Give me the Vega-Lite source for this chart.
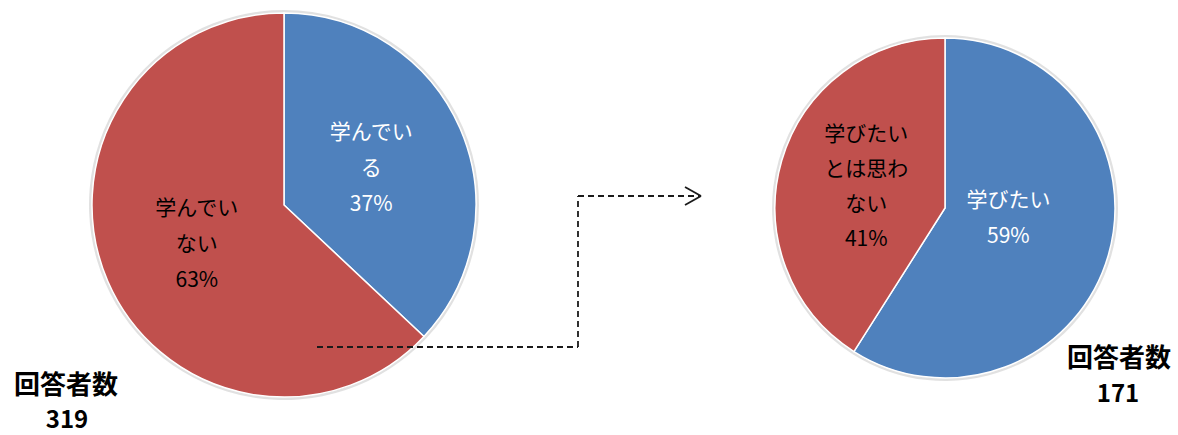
{
  "$schema": "https://vega.github.io/schema/vega-lite/v6.json",
  "width": 1178,
  "height": 435,
  "padding": 0,
  "autosize": {"type": "none"},
  "background": "white",
  "config": {"view": {"stroke": null}, "text": {"font": "Noto Sans CJK JP"}},
  "datasets": {
    "slices": [
      {"survey": "全体", "answer": "学んでいる", "pct": 37, "order": 1, "label": "学んでい|る|37%"},
      {"survey": "全体", "answer": "学んでいない", "pct": 63, "order": 2, "label": "学んでい|ない|63%"},
      {"survey": "学んでいない人", "answer": "学びたい", "pct": 59, "order": 1, "label": "学びたい|59%"},
      {"survey": "学んでいない人", "answer": "学びたいとは思わない", "pct": 41, "order": 2, "label": "学びたい|とは思わ|ない|41%"}
    ],
    "totals": [
      {"survey": "全体", "n": 319},
      {"survey": "学んでいない人", "n": 171}
    ]
  },
  "layer": [
    {
      "data": {"name": "slices"},
      "transform": [
        {"stack": "pct", "groupby": ["survey"], "sort": [{"field": "order", "order": "ascending"}], "offset": "normalize", "as": ["start", "end"]},
        {"calculate": "(datum.start + datum.end) / 2", "as": "mid"}
      ],
      "encoding": {
        "x": {"field": "survey", "type": "nominal", "scale": {"type": "point", "domain": ["全体", "学んでいない人"], "range": [284, 945], "padding": 0}, "axis": null},
        "y": {"field": "survey", "type": "nominal", "scale": {"type": "point", "domain": ["全体", "学んでいない人"], "range": [205, 208], "padding": 0}, "axis": null}
      },
      "layer": [
        {
          "transform": [{"filter": "datum.survey === '全体'"}],
          "mark": {"type": "arc", "radius": 195, "color": "#d4d4d4", "opacity": 0.7},
          "encoding": {
            "theta": {"field": "start", "type": "quantitative", "scale": {"domain": [0, 1], "range": [0, 6.283185]}},
            "theta2": {"field": "end"}
          }
        },
        {
          "transform": [{"filter": "datum.survey === '学んでいない人'"}],
          "mark": {"type": "arc", "radius": 173, "color": "#d4d4d4", "opacity": 0.7},
          "encoding": {
            "theta": {"field": "start", "type": "quantitative", "scale": {"domain": [0, 1], "range": [0, 6.283185]}},
            "theta2": {"field": "end"}
          }
        },
        {
          "transform": [{"filter": "datum.survey === '全体'"}],
          "mark": {"type": "arc", "radius": 192, "stroke": "white", "strokeWidth": 1.5},
          "encoding": {
            "theta": {"field": "start", "type": "quantitative", "scale": {"domain": [0, 1], "range": [0, 6.283185]}},
            "theta2": {"field": "end"},
            "color": {"field": "answer", "type": "nominal", "scale": {"domain": ["学んでいる", "学んでいない", "学びたい", "学びたいとは思わない"], "range": ["#4F81BD", "#C0504D", "#4F81BD", "#C0504D"]}, "legend": null}
          }
        },
        {
          "transform": [{"filter": "datum.survey === '学んでいない人'"}],
          "mark": {"type": "arc", "radius": 170, "stroke": "white", "strokeWidth": 1.5},
          "encoding": {
            "theta": {"field": "start", "type": "quantitative", "scale": {"domain": [0, 1], "range": [0, 6.283185]}},
            "theta2": {"field": "end"},
            "color": {"field": "answer", "type": "nominal", "legend": null}
          }
        },
        {
          "transform": [{"filter": "datum.survey === '全体'"}],
          "mark": {"type": "text", "radius": 95, "fontSize": 21, "lineBreak": "|", "lineHeight": 36, "align": "center", "baseline": "middle", "dy": -34},
          "encoding": {
            "theta": {"field": "mid", "type": "quantitative"},
            "text": {"field": "label"},
            "color": {"condition": {"test": "datum.order === 1", "value": "white"}, "value": "black"}
          }
        },
        {
          "transform": [{"filter": "datum.survey === '学んでいない人' && datum.order === 1"}],
          "mark": {"type": "text", "radius": 66, "fontSize": 21, "lineBreak": "|", "lineHeight": 36, "align": "center", "baseline": "middle", "color": "white", "dy": -25},
          "encoding": {
            "theta": {"field": "mid", "type": "quantitative"},
            "text": {"field": "label"}
          }
        },
        {
          "transform": [{"filter": "datum.survey === '学んでいない人' && datum.order === 2"}],
          "mark": {"type": "text", "radius": 82, "fontSize": 21, "lineBreak": "|", "lineHeight": 35, "align": "center", "baseline": "middle", "color": "black", "dy": -50},
          "encoding": {
            "theta": {"field": "mid", "type": "quantitative"},
            "text": {"field": "label"}
          }
        },
        {
          "data": {"name": "totals"},
          "transform": [{"filter": "datum.survey === '全体'"}],
          "mark": {"type": "text", "fontSize": 26, "fontWeight": "bold", "align": "center", "baseline": "middle", "dx": -218, "dy": 181, "color": "black"},
          "encoding": {"text": {"value": "回答者数"}}
        },
        {
          "data": {"name": "totals"},
          "transform": [{"filter": "datum.survey === '全体'"}],
          "mark": {"type": "text", "fontSize": 24, "fontWeight": "bold", "align": "center", "baseline": "middle", "dx": -217, "dy": 216, "color": "black"},
          "encoding": {"text": {"field": "n"}}
        },
        {
          "data": {"name": "totals"},
          "transform": [{"filter": "datum.survey === '学んでいない人'"}],
          "mark": {"type": "text", "fontSize": 26, "fontWeight": "bold", "align": "center", "baseline": "middle", "dx": 174, "dy": 151, "color": "black"},
          "encoding": {"text": {"value": "回答者数"}}
        },
        {
          "data": {"name": "totals"},
          "transform": [{"filter": "datum.survey === '学んでいない人'"}],
          "mark": {"type": "text", "fontSize": 24, "fontWeight": "bold", "align": "center", "baseline": "middle", "dx": 173, "dy": 187, "color": "black"},
          "encoding": {"text": {"field": "n"}}
        }
      ]
    },
    {
      "data": {"values": [{}]},
      "layer": [
        {
          "mark": {"type": "rule", "strokeDash": [6, 4], "strokeWidth": 1.8, "color": "#1a1a1a"},
          "encoding": {
            "x": {"datum": 317, "type": "quantitative", "scale": {"domain": [0, 1178], "range": [0, 1178], "zero": false, "nice": false}, "axis": null},
            "x2": {"datum": 578},
            "y": {"datum": 347, "type": "quantitative", "scale": {"domain": [0, 435], "range": [0, 435], "zero": false, "nice": false}, "axis": null}
          }
        },
        {
          "mark": {"type": "rule", "strokeDash": [6, 4], "strokeWidth": 1.8, "color": "#1a1a1a"},
          "encoding": {
            "x": {"datum": 578, "type": "quantitative"},
            "y": {"datum": 347, "type": "quantitative"},
            "y2": {"datum": 196}
          }
        },
        {
          "mark": {"type": "rule", "strokeDash": [6, 4], "strokeWidth": 1.8, "color": "#1a1a1a"},
          "encoding": {
            "x": {"datum": 578, "type": "quantitative"},
            "x2": {"datum": 700},
            "y": {"datum": 196, "type": "quantitative"}
          }
        },
        {
          "mark": {"type": "rule", "strokeWidth": 1.8, "color": "#1a1a1a"},
          "encoding": {
            "x": {"datum": 685, "type": "quantitative"},
            "x2": {"datum": 701},
            "y": {"datum": 187, "type": "quantitative"},
            "y2": {"datum": 196}
          }
        },
        {
          "mark": {"type": "rule", "strokeWidth": 1.8, "color": "#1a1a1a"},
          "encoding": {
            "x": {"datum": 701, "type": "quantitative"},
            "x2": {"datum": 685},
            "y": {"datum": 196, "type": "quantitative"},
            "y2": {"datum": 205}
          }
        }
      ]
    }
  ],
  "resolve": {"scale": {"x": "independent", "y": "independent"}}
}
